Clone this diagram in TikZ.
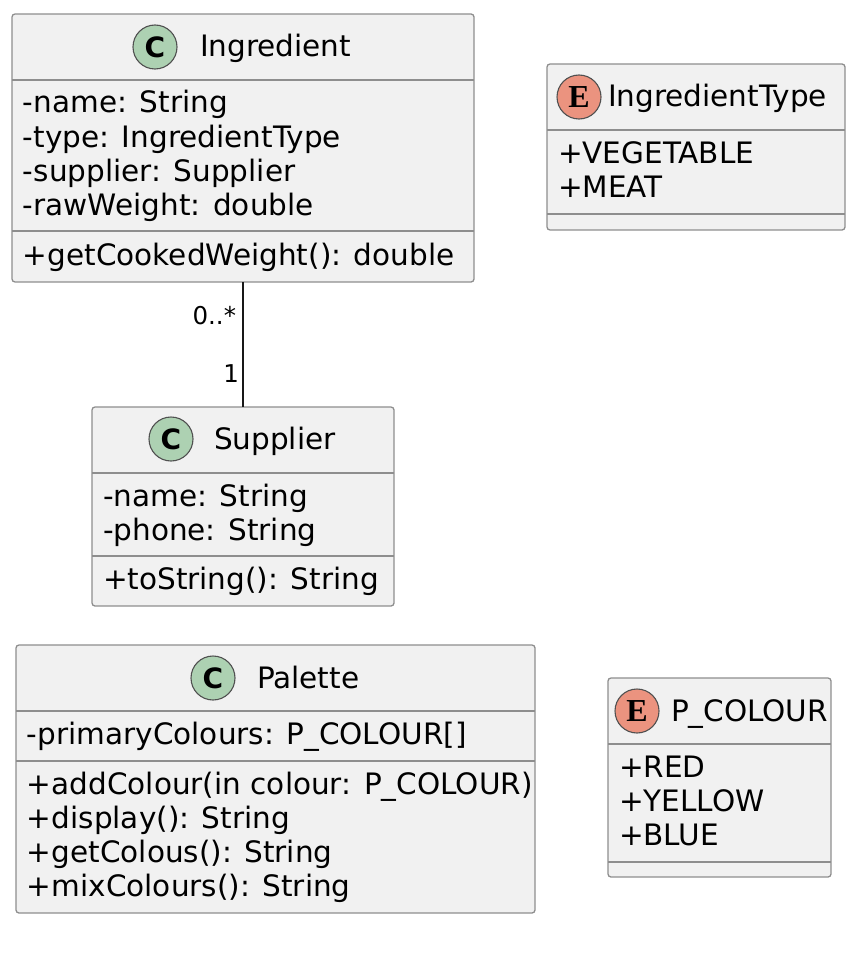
\documentclass[tikz,border=0pt]{standalone}
\usepackage{fontspec}
\setmainfont{DejaVu Sans}
\newfontfamily\spotfont{Liberation Serif}
\definecolor{boxfill}{HTML}{F1F1F1}
\definecolor{boxline}{HTML}{8E8E8E}
\definecolor{spotline}{HTML}{505050}
\definecolor{classspot}{HTML}{ADD1B2}
\definecolor{enumspot}{HTML}{EB937F}
\definecolor{linkline}{HTML}{181818}

\begin{document}
\begin{tikzpicture}[x=1pt, y=-1pt,
  every node/.style = {inner sep=0pt, outer sep=0pt, text=black},
  umlbox/.style = {draw=boxline, fill=boxfill, line width=1.3pt, rounded corners=3pt},
  sepline/.style = {draw=boxline, line width=1.3pt},
  spot/.style = {circle, draw=spotline, line width=1.1pt, minimum size=44pt},
  classletter/.style = {font=\fontsize{28}{28}\selectfont\bfseries},
  enumletter/.style = {font=\fontsize{32}{32}\spotfont\bfseries},
  title/.style = {anchor=base west, font=\fontsize{29.5}{34}\selectfont},
  member/.style = {anchor=base west, font=\fontsize{29.5}{34}\selectfont},
  mult/.style = {anchor=base east, font=\fontsize{24.5}{28}\selectfont},
  assoc/.style = {draw=linkline, line width=1.5pt},
  ]
  \useasboundingbox (0,0) rectangle (861,955);

  \node [umlbox, minimum width=462, minimum height=268] (n1Ingredient) at (243,148) {};
  \node [umlbox, minimum width=298, minimum height=166] (n2IngredientType) at (696,147) {};
  \node [umlbox, minimum width=302, minimum height=199] (n3Supplier) at (243,506.5) {};
  \node [umlbox, minimum width=519, minimum height=268] (n4Palette) at (275.5,779) {};
  \node [umlbox, minimum width=223, minimum height=199] (n5PColour) at (719.5,777.5) {};

  \foreach \b/\y in {n1Ingredient/80, n1Ingredient/231, n2IngredientType/130, n2IngredientType/214,
                     n3Supplier/473, n3Supplier/556, n4Palette/711, n4Palette/761,
                     n5PColour/744, n5PColour/862}
    \draw [sepline] (\b.west |- 0,\y) -- (\b.east |- 0,\y);

  \node [spot, fill=classspot, classletter] (s1C) at (155,47) {C};
  \node [spot, fill=enumspot, enumletter] (s2E) at (579,97) {E};
  \node [spot, fill=classspot, classletter] (s3C) at (171,439) {C};
  \node [spot, fill=classspot, classletter] (s4C) at (213,678) {C};
  \node [spot, fill=enumspot, enumletter] (s5E) at (637,711) {E};

  \node [title] (t1Ingredient) at (200,57) {Ingredient};
  \node [title] (t2IngredientType) at (608,107) {IngredientType};
  \node [title] (t3Supplier) at (214,449) {Supplier};
  \node [title] (t4Palette) at (257,688) {Palette};
  \node [title] (t5PColour) at (671,721) {P\_COLOUR};

  \foreach \t [count=\i] in {-name: String, -type: IngredientType, -supplier: Supplier, -rawWeight: double}
    \node [member] (a1\i) at (23,79+34*\i) {\t};
  \node [member] (o11) at (23,265) {+getCookedWeight(): double};

  \foreach \t [count=\i] in {+VEGETABLE, +MEAT}
    \node [member] (a2\i) at (558,129+34*\i) {\t};

  \foreach \t [count=\i] in {-name: String, -phone: String}
    \node [member] (a3\i) at (103,472+34*\i) {\t};
  \node [member] (o31) at (103,589) {+toString(): String};

  \node [member] (a41) at (27,744) {-primaryColours: P\_COLOUR[]};
  \foreach \t [count=\i] in {{+addColour(in colour: P\_COLOUR)}, {+display(): String},
                             {+getColous(): String}, {+mixColours(): String}}
    \node [member] (o4\i) at (27,760+34*\i) {\t};

  \foreach \t [count=\i] in {+RED, +YELLOW, +BLUE}
    \node [member] (a5\i) at (619,743+34*\i) {\t};

  \draw [assoc] (n1Ingredient.south) -- (n3Supplier.north);
  \node [mult] (m1Ingredient) at (236,324) {0..*};
  \node [mult] (m3Supplier) at (239,382) {1};
\end{tikzpicture}
\end{document}
